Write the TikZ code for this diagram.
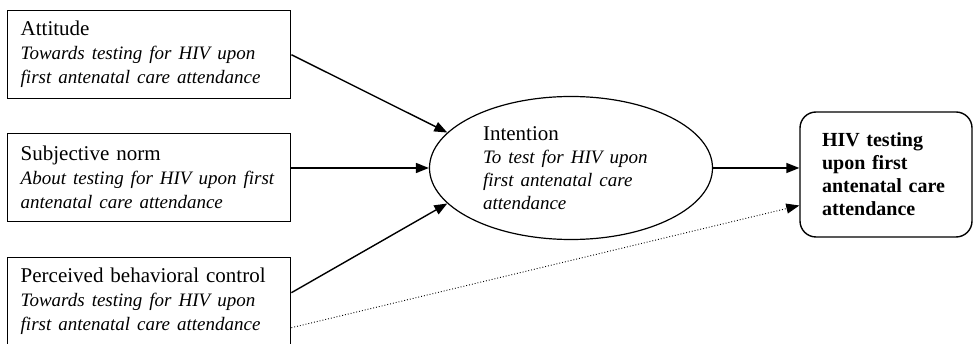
\documentclass[tikz,border=0pt]{standalone}
\usepackage{fontspec}
\setmainfont{Liberation Serif}
\usetikzlibrary{arrows.meta,shapes.geometric}
\newcommand{\gloss}[1]{{\fontsize{19}{24}\selectfont\itshape #1}}

\begin{document}
\begin{tikzpicture}[x=1pt, y=-1pt, >={Triangle[length=13pt,width=10pt]},
  factor/.style={draw, line width=1.4pt, minimum width=283pt, minimum height=88pt,
    text width=257pt, inner xsep=13pt, align=left, anchor=north west,
    font=\fontsize{21}{24}\selectfont},
  link/.style={->, line width=1.4pt},
  weaklink/.style={->, dotted, line width=0.9pt}]
  \useasboundingbox (0,0) rectangle (973,344);
  % three belief boxes on the left
  \node[factor] (attitude) at (7,10) {Attitude\\ \gloss{Towards testing for HIV upon}\\ \gloss{first antenatal care attendance}};
  \node[factor] (norm) at (7,133) {Subjective norm\\ \gloss{About testing for HIV upon first}\\ \gloss{antenatal care attendance}};
  \node[factor] (control) at (7,257) {Perceived behavioral control\\ \gloss{Towards testing for HIV upon}\\ \gloss{first antenatal care attendance}};
  % intention (ellipse)
  \node[draw, ellipse, line width=1.2pt, minimum width=283pt, minimum height=143pt,
    text width=176pt, align=left, inner sep=0pt, font=\fontsize{21}{23}\selectfont]
    (intention) at (571,168) {Intention\\ \gloss{To test for HIV upon}\\ \gloss{first antenatal care}\\ \gloss{attendance}};
  % behaviour
  \node[draw, rounded corners=16pt, line width=1.4pt, minimum width=172pt, minimum height=125pt,
    text width=128pt, align=left, inner sep=0pt, font=\fontsize{20}{23}\selectfont\bfseries]
    (testing) at (886,174.5) {HIV testing\\ upon first\\ antenatal care\\ attendance};
  % paths
  \draw[link] (attitude.east) -- (intention.164);
  \draw[link] (norm.east |- intention.west) -- (intention.west);
  \draw[link] ([yshift=9pt]control.east) -- (intention.196);
  \draw[link] (intention.east) -- (intention.east -| testing.west);
  \draw[weaklink] ([yshift=-26pt]control.east) -- ([yshift=-31pt]testing.west);
\end{tikzpicture}
\end{document}
